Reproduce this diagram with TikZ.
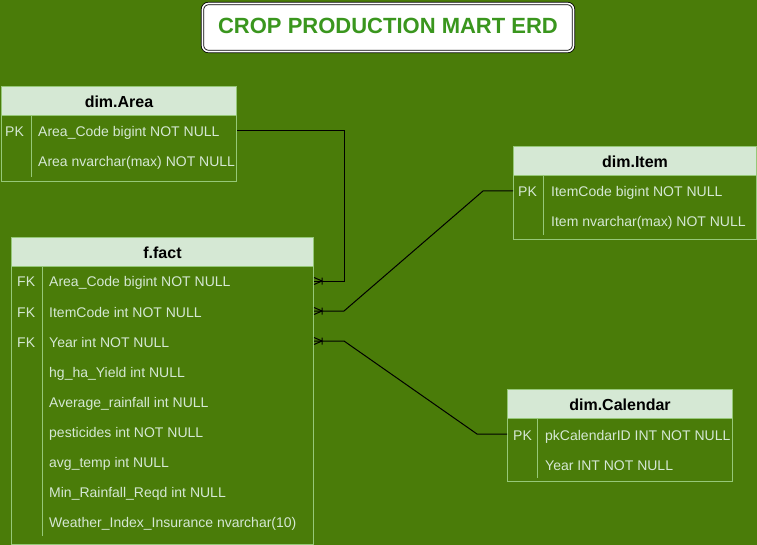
\documentclass[tikz,border=0pt]{standalone}
\usepackage{fontspec}
\setmainfont{Liberation Sans}
\usetikzlibrary{calc}
\definecolor{bg}{RGB}{74,124,9}
\definecolor{hdrfill}{HTML}{D5E8D4}
\definecolor{tblline}{RGB}{150,200,120}
\definecolor{fieldtxt}{HTML}{D5E8D4}
\definecolor{titlegreen}{RGB}{58,150,30}
\begin{document}
\begin{tikzpicture}[x=1pt,y=-1pt,
  tbl/.style={draw=tblline, line width=1pt, inner sep=0pt, anchor=north west},
  hdr/.style={draw=tblline, fill=hdrfill, line width=1pt, inner sep=0pt, anchor=north west,
    minimum height=29pt, font=\fontsize{16}{19}\selectfont\bfseries, text=black,
    text height=16.8pt, text depth=3.4pt},
  field/.style={anchor=west, inner sep=0pt, text=fieldtxt, font=\fontsize{14}{16}\selectfont,
    text height=15pt, text depth=3pt},
  sep/.style={draw=tblline, line width=1pt},
  conn/.style={draw=black, line width=1pt},
  crow/.pic={\draw[black, line width=1pt] (0,-3.5)--(8,0)--(0,3.5) (8,-3.5)--(8,3.5);}
]
\useasboundingbox[fill=bg] (0,0) rectangle (757,545);

% title
\node[draw=black, double=white, double distance=1.6pt, line width=0.8pt, rounded corners=6pt,
  fill=white, minimum width=371pt, minimum height=48pt, inner sep=0pt,
  text=titlegreen, font=\fontsize{22}{25}\selectfont\bfseries,
  text height=15.8pt, text depth=4pt] (title) at (388,27.5) {CROP PRODUCTION MART ERD};

% dim.Area
\node[tbl, minimum width=235pt, minimum height=95pt] (area) at (1,86) {};
\node[hdr, minimum width=235pt] (areaH) at (1,86) {dim.Area};
\draw[sep] (31,116) -- (31,177);
\node[field] (aPKk) at (5,131) {PK};
\node[field] (aPK) at (38,131) {Area\_Code bigint NOT NULL};
\node[field] (aNm) at (38,161) {Area nvarchar(max) NOT NULL};

% dim.Item
\node[tbl, minimum width=243pt, minimum height=93pt] (item) at (513,146) {};
\node[hdr, minimum width=243pt] (itemH) at (513,146) {dim.Item};
\draw[sep] (543,175) -- (543,235);
\node[field] (iPKk) at (518,191) {PK};
\node[field] (iPK) at (551,191) {ItemCode bigint NOT NULL};
\node[field] (iNm) at (551,221) {Item nvarchar(max) NOT NULL};

% dim.Calendar
\node[tbl, minimum width=225pt, minimum height=92pt] (cal) at (507,389) {};
\node[hdr, minimum width=225pt] (calH) at (507,389) {dim.Calendar};
\draw[sep] (537,418) -- (537,478);
\node[field] (cPKk) at (513,434) {PK};
\node[field] (cPK) at (545,434) {pkCalendarID INT NOT NULL};
\node[field] (cYr) at (545,464) {Year INT NOT NULL};

% f.fact
\node[tbl, minimum width=302pt, minimum height=307pt] (fact) at (11,237) {};
\node[hdr, minimum width=302pt] (factH) at (11,237) {f.fact};
\draw[sep] (42,266) -- (42,536);
\node[field] (fAk) at (17,281) {FK};
\node[field] (fIk) at (17,311) {FK};
\node[field] (fYk) at (17,341) {FK};
\node[field] (fA) at (49,281) {Area\_Code bigint NOT NULL};
\node[field] (fI) at (49,311) {ItemCode int NOT NULL};
\node[field] (fY) at (49,341) {Year int NOT NULL};
\node[field] (f4) at (49,371) {hg\_ha\_Yield int NULL};
\node[field] (f5) at (49,401) {Average\_rainfall int NULL};
\node[field] (f6) at (49,431) {pesticides int NOT NULL};
\node[field] (f7) at (49,461) {avg\_temp int NULL};
\node[field] (f8) at (49,491) {Min\_Rainfall\_Reqd int NULL};
\node[field] (f9) at (49,521) {Weather\_Index\_Insurance nvarchar(10)};

% connectors
\draw[conn] (aPK -| area.east) -- ++(107,0) |- (fA -| fact.east);
\draw[conn] (iPK -| item.west) -- ++(-30,0) -- ($(fI -| fact.east)+(30,0)$) -- (fI -| fact.east);
\draw[conn] (cPK -| cal.west) -- ++(-30,0) -- ($(fY -| fact.east)+(30,0)$) -- (fY -| fact.east);
\pic at (fA -| fact.east) {crow};
\pic at (fI -| fact.east) {crow};
\pic at (fY -| fact.east) {crow};
\end{tikzpicture}
\end{document}
